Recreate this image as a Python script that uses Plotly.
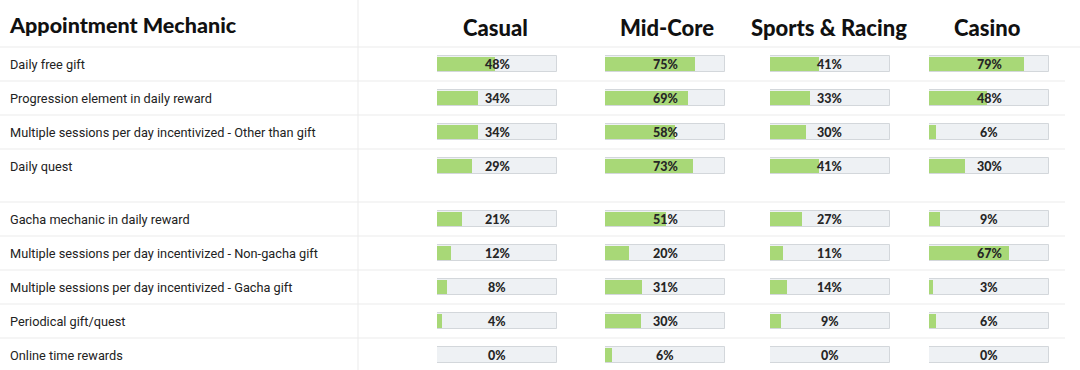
import plotly.graph_objects as go

W, H = 1080, 370

categories = [
    "Daily free gift",
    "Progression element in daily reward",
    "Multiple sessions per day incentivized - Other than gift",
    "Daily quest",
    "Gacha mechanic in daily reward",
    "Multiple sessions per day incentivized - Non-gacha gift",
    "Multiple sessions per day incentivized - Gacha gift",
    "Periodical gift/quest",
    "Online time rewards",
]
genres = ["Casual", "Mid-Core", "Sports & Racing", "Casino"]
casual = [48, 34, 34, 29, 21, 12, 8, 4, 0]
midcore = [75, 69, 58, 73, 51, 20, 31, 30, 6]
sports = [41, 33, 30, 41, 27, 11, 14, 9, 0]
casino = [79, 48, 6, 30, 9, 67, 3, 6, 0]
series = [casual, midcore, sports, casino]
title = "Appointment Mechanic"

# layout (pixel units)
header_h = 47
row_heights = [34, 34, 34, 53, 34, 34, 34, 34, 34]
bar_offset = 17
bar_w = 16
col_px = [(437, 557), (605, 725), (770, 890), (929, 1049)]
header_centers = [495, 667, 829, 987]

tops = []
t = header_h
for h in row_heights:
    tops.append(t)
    t += h
centers = [tp + bar_offset for tp in tops]

GREEN = "#a8d877"
TRACK = "#eef1f4"
BORDER = "#d3d7db"
SEP = "#ebebeb"
LABEL_FONT = "Roboto"
BOLD_FONT = "Lato"

fig = go.Figure()
for i, vals in enumerate(series):
    ax = "x" if i == 0 else f"x{i+1}"
    fig.add_trace(go.Bar(
        x=[100] * len(vals), y=centers, orientation="h", width=bar_w,
        marker=dict(color=TRACK, line=dict(color=BORDER, width=1)),
        xaxis=ax, yaxis="y", hoverinfo="skip", showlegend=False,
    ))
    fig.add_trace(go.Bar(
        x=vals, y=centers, orientation="h", width=bar_w - 2,
        marker=dict(color=GREEN, line=dict(width=0)),
        xaxis=ax, yaxis="y", showlegend=False,
    ))
    for v, c in zip(vals, centers):
        fig.add_annotation(
            x=50, y=c, xref=ax, yref="y", text=f"{v}%", showarrow=False,
            font=dict(family=BOLD_FONT, size=12.5, color="#262626", weight=900),
            xanchor="center", yanchor="middle",
        )

layout_axes = {}
for i, (a, b) in enumerate(col_px):
    key = "xaxis" if i == 0 else f"xaxis{i+1}"
    layout_axes[key] = dict(domain=[a / W, b / W], range=[0, 100], visible=False,
                            fixedrange=True, anchor="y")

fig.update_layout(
    width=W, height=H, margin=dict(l=0, r=0, t=0, b=0),
    paper_bgcolor="white", plot_bgcolor="white",
    barmode="overlay", bargap=0,
    yaxis=dict(range=[H, 0], domain=[0, 1], visible=False, fixedrange=True),
    **layout_axes,
)

# row labels
for cat, tp in zip(categories, tops):
    fig.add_annotation(
        x=8 / W, y=tp + bar_offset, xref="paper", yref="y", text=cat, showarrow=False,
        xanchor="left", yanchor="middle",
        font=dict(family=LABEL_FONT, size=12.75, color="#222222"),
    )

# headers
fig.add_annotation(
    x=7 / W, y=25, xref="paper", yref="y", text=title, showarrow=False,
    xanchor="left", yanchor="middle",
    font=dict(family=BOLD_FONT, size=21.5, color="#111111", weight=900),
)
for g, cx in zip(genres, header_centers):
    fig.add_annotation(
        x=cx / W, y=27, xref="paper", yref="y", text=g, showarrow=False,
        xanchor="center", yanchor="middle",
        font=dict(family=BOLD_FONT, size=22, color="#111111", weight=900),
    )

# separators
seps = [header_h] + [tp + h for tp, h in zip(tops, row_heights)][:-1]
for k, s in enumerate(seps):
    fig.add_shape(type="line", xref="paper", yref="y", x0=0, x1=1 if k == 0 else 1065 / W,
                  y0=s, y1=s, line=dict(color=SEP, width=1), layer="below")
fig.add_shape(type="line", xref="paper", yref="paper", x0=358 / W, x1=358 / W,
              y0=0, y1=1, line=dict(color=SEP, width=1), layer="below")

fig.write_html("out.html", config={"displayModeBar": False},
               post_script="document.body.style.margin='0';")
